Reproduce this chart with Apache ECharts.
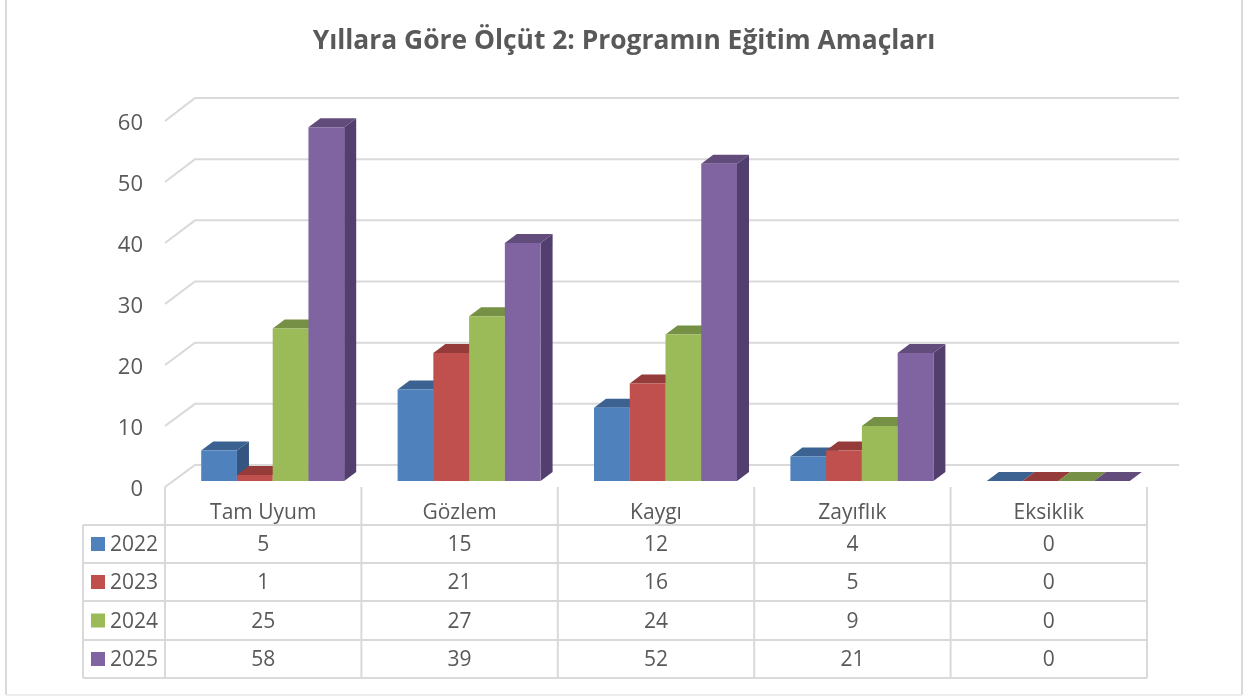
<!DOCTYPE html>
<html>
<head>
<meta charset="utf-8">
<style>html,body{margin:0;padding:0;background:#fff}#c{width:1248px;height:696px}</style>
<script src="https://cdn.jsdelivr.net/npm/echarts@6/dist/echarts.min.js"></script>
</head>
<body>
<div id="c"></div>
<script>
const titleText = 'Yıllara Göre Ölçüt 2: Programın Eğitim Amaçları';
const categories = ['Tam Uyum', 'Gözlem', 'Kaygı', 'Zayıflık', 'Eksiklik'];
const seriesNames = ['2022', '2023', '2024', '2025'];
const values2022 = [5, 15, 12, 4, 0];
const values2023 = [1, 21, 16, 5, 0];
const values2024 = [25, 27, 24, 9, 0];
const values2025 = [58, 39, 52, 21, 0];
const allValues = [values2022, values2023, values2024, values2025];
const wallTicks = [0, 10, 20, 30, 40, 50, 60];
const frontColors = ['#4F81BD', '#C0504D', '#9BBB59', '#8064A2'];
const topColors = ['#3B6290', '#953B39', '#769045', '#614C7C'];
const sideColors = ['#335580', '#813331', '#66803A', '#533F6E'];

const TEXT = '#595959', LINE = '#D9D9D9', FONT = '"Open Sans"';
const GL = 165, GR = 1147, GT = 121, GB = 487;
const CW = (GR - GL) / categories.length;
const BAR_W = 35.75, DX = 12, DY = -9, FRONT_UP = 6, GROUP_L = -62;
const WALL_DX = 30, WALL_DY = -22, WALL_R = 1179;
const ROWS = [525, 563, 601, 640, 678], TBL_L = 83;

function barSeries(s) {
  return {
    type: 'custom', name: seriesNames[s], z: 5 + s,
    data: allValues[s].map((v, i) => [i, v]),
    encode: { x: 0, y: 1 },
    renderItem(params, api) {
      const p = api.coord([api.value(0), api.value(1)]);
      const x0 = p[0] + GROUP_L + s * BAR_W, x1 = x0 + BAR_W;
      const yT = p[1] - FRONT_UP;
      const yB = api.coord([api.value(0), 0])[1] - FRONT_UP;
      const st = c => ({ fill: c, stroke: null });
      return {
        type: 'group',
        children: [
          { type: 'polygon', shape: { points: [[x1, yT], [x1 + DX, yT + DY], [x1 + DX, yB + DY], [x1, yB]] }, style: st(sideColors[s]) },
          { type: 'polygon', shape: { points: [[x0, yT], [x1, yT], [x1 + DX, yT + DY], [x0 + DX, yT + DY]] }, style: st(topColors[s]) },
          { type: 'rect', shape: { x: x0, y: yT, width: BAR_W, height: yB - yT }, style: st(frontColors[s]) }
        ]
      };
    }
  };
}

const wallSeries = {
  type: 'custom', name: 'wall', z: 1, silent: true,
  data: wallTicks.map(v => [0, v]),
  encode: { y: 1 },
  renderItem(params, api) {
    const y = api.coord([0, api.value(1)])[1];
    const yb = y + WALL_DY - (api.value(1) / 60);
    return {
      type: 'polyline',
      shape: { points: [[GL, y], [GL + WALL_DX, yb], [WALL_R, yb]] },
      style: { stroke: LINE, lineWidth: 2, fill: null }
    };
  }
};

const g = [];
// outer chart border (left, right, bottom edges are visible in the crop)
g.push({ type: 'line', shape: { x1: 6, y1: 0, x2: 6, y2: 695 }, style: { stroke: LINE, lineWidth: 2 } });
g.push({ type: 'line', shape: { x1: 1242, y1: 0, x2: 1242, y2: 695 }, style: { stroke: LINE, lineWidth: 2 } });
g.push({ type: 'line', shape: { x1: 6, y1: 695, x2: 1242, y2: 695 }, style: { stroke: '#EDEDED', lineWidth: 2 } });
// table rules
ROWS.forEach(y => g.push({ type: 'line', shape: { x1: TBL_L, y1: y, x2: GR, y2: y }, style: { stroke: LINE, lineWidth: 2 } }));
g.push({ type: 'line', shape: { x1: TBL_L, y1: ROWS[0], x2: TBL_L, y2: ROWS[4] }, style: { stroke: LINE, lineWidth: 2 } });
for (let i = 0; i <= categories.length; i++) {
  const x = GL + i * CW;
  g.push({ type: 'line', shape: { x1: x, y1: GB, x2: x, y2: ROWS[4] }, style: { stroke: LINE, lineWidth: 2 } });
}
// table content
seriesNames.forEach((name, s) => {
  const cy = (ROWS[s] + ROWS[s + 1]) / 2 + 1.5;
  g.push({ type: 'rect', shape: { x: 91, y: cy - 8.5, width: 14, height: 14 }, style: { fill: frontColors[s] } });
  g.push({ type: 'text', x: 110, y: cy, style: { text: name, fontFamily: FONT, fontSize: 21, fill: TEXT, verticalAlign: 'middle', align: 'left' } });
  allValues[s].forEach((v, i) => {
    g.push({ type: 'text', x: GL + (i + 0.5) * CW, y: cy, style: { text: String(v), fontFamily: FONT, fontSize: 21, fill: TEXT, verticalAlign: 'middle', align: 'center' } });
  });
});

const chart = echarts.init(document.getElementById('c'), null, { renderer: 'canvas' });
chart.setOption({
  animation: false,
  backgroundColor: '#fff',
  title: {
    text: titleText, left: 'center', top: 23,
    textStyle: { fontFamily: FONT, fontWeight: 'bold', fontSize: 26.4, color: TEXT }
  },
  grid: { left: GL, top: GT, width: GR - GL, height: GB - GT },
  xAxis: {
    type: 'category', data: categories,
    axisLine: { show: false }, axisTick: { show: false },
    axisLabel: { color: TEXT, fontFamily: FONT, fontSize: 21, margin: 16 }
  },
  yAxis: {
    type: 'value', min: 0, max: 60, interval: 10,
    axisLine: { show: false }, axisTick: { show: false }, splitLine: { show: false },
    axisLabel: { color: TEXT, fontFamily: FONT, fontSize: 22, margin: 22, verticalAlign: 'top', lineHeight: 6 }
  },
  series: [wallSeries, barSeries(0), barSeries(1), barSeries(2), barSeries(3)],
  graphic: { elements: g.map(e => Object.assign({ z: 0, silent: true }, e)) }
});
</script>
</body>
</html>
